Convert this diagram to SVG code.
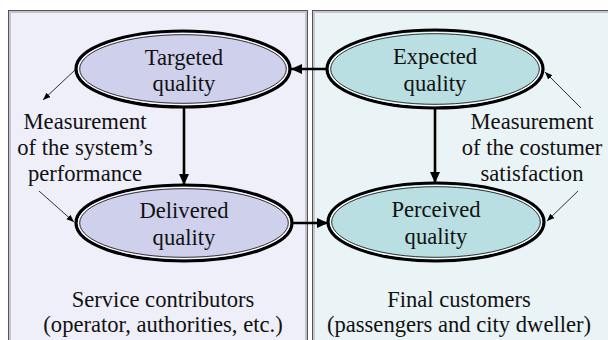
<svg xmlns="http://www.w3.org/2000/svg" width="608" height="340" viewBox="0 0 608 340">
<style>
text{font-family:"Liberation Serif","Times New Roman",serif;font-size:22.6px;fill:#111;text-anchor:middle}
.outer{stroke:#000;stroke-width:3.2}
.gap{fill:none;stroke:#fff;stroke-width:1.2}
.inner{fill:none;stroke:#222;stroke-width:0.9}
.lav{fill:#cfd0ec}
.cy{fill:#b9dfe2}
.thick{stroke:#000;stroke-width:2.6;fill:none}
.thin{stroke:#000;stroke-width:0.8;fill:none}
</style>
<defs>
<marker id="ah" markerUnits="userSpaceOnUse" markerWidth="12" markerHeight="12" viewBox="0 0 12 12" refX="11" refY="6" orient="auto">
<path d="M0,1 L11,6 L0,11 Z" fill="#000"/>
</marker>
<marker id="as" markerUnits="userSpaceOnUse" markerWidth="8" markerHeight="8" viewBox="0 0 8 8" refX="7.5" refY="4" orient="auto">
<path d="M0,1 L7.5,4 L0,7 Z" fill="#000"/>
</marker>
</defs>
<rect width="608" height="340" fill="#fff"/>
<g id="panel-left">
<rect x="8.5" y="10.5" width="299" height="340" fill="#efeff9" stroke="#555" stroke-width="1"/>
<rect x="10" y="12" width="296" height="340" fill="none" stroke="#c4c4cc" stroke-width="2"/>
<text x="163" y="307">Service contributors</text>
<text x="163" y="332">(operator, authorities, etc.)</text>
<text x="85" y="129">Measurement</text>
<text x="85" y="155">of the system’s</text>
<text x="85" y="181">performance</text>
</g>
<g id="panel-right">
<rect x="312.5" y="10.5" width="300" height="340" fill="#eaf4f6" stroke="#555" stroke-width="1"/>
<rect x="314" y="12" width="300" height="340" fill="none" stroke="#c4c8cc" stroke-width="2"/>
<text x="459" y="307">Final customers</text>
<text x="459" y="332">(passengers and city dweller)</text>
<text x="532" y="129">Measurement</text>
<text x="532" y="155">of the costumer</text>
<text x="532" y="181">satisfaction</text>
</g>
<g id="connectors">
<line class="thick" x1="327" y1="69" x2="291" y2="69" marker-end="url(#ah)"/>
<line class="thick" x1="184" y1="107" x2="184" y2="185" marker-end="url(#ah)"/>
<line class="thick" x1="435" y1="108" x2="435" y2="183" marker-end="url(#ah)"/>
<line class="thick" x1="293" y1="223" x2="328" y2="223" marker-end="url(#ah)"/>
<line class="thin" x1="75" y1="70" x2="43" y2="100" marker-end="url(#as)"/>
<line class="thin" x1="39" y1="191" x2="74" y2="222" marker-end="url(#as)"/>
<line class="thin" x1="581" y1="108" x2="545" y2="72" marker-end="url(#as)"/>
<line class="thin" x1="578" y1="191" x2="547" y2="221" marker-end="url(#as)"/>
</g>
<g id="targeted">
<ellipse class="outer lav" cx="183" cy="69" rx="107" ry="38"/>
<ellipse class="gap" cx="183" cy="69" rx="104.5" ry="35.5"/>
<ellipse class="inner" cx="183" cy="69" rx="103.3" ry="34.3"/>
<text x="184" y="65">Targeted</text>
<text x="184" y="91">quality</text>
</g>
<g id="expected">
<ellipse class="outer cy" cx="435" cy="69" rx="108" ry="39"/>
<ellipse class="gap" cx="435" cy="69" rx="105.5" ry="36.5"/>
<ellipse class="inner" cx="435" cy="69" rx="104.3" ry="35.3"/>
<text x="435" y="64">Expected</text>
<text x="435" y="91">quality</text>
</g>
<g id="delivered">
<ellipse class="outer lav" cx="184" cy="223" rx="108" ry="38"/>
<ellipse class="gap" cx="184" cy="223" rx="105.5" ry="35.5"/>
<ellipse class="inner" cx="184" cy="223" rx="104.3" ry="34.3"/>
<text x="184" y="218">Delivered</text>
<text x="184" y="245">quality</text>
</g>
<g id="perceived">
<ellipse class="outer cy" cx="436" cy="222" rx="108" ry="39"/>
<ellipse class="gap" cx="436" cy="222" rx="105.5" ry="36.5"/>
<ellipse class="inner" cx="436" cy="222" rx="104.3" ry="35.3"/>
<text x="436" y="217">Perceived</text>
<text x="436" y="244">quality</text>
</g>
</svg>
